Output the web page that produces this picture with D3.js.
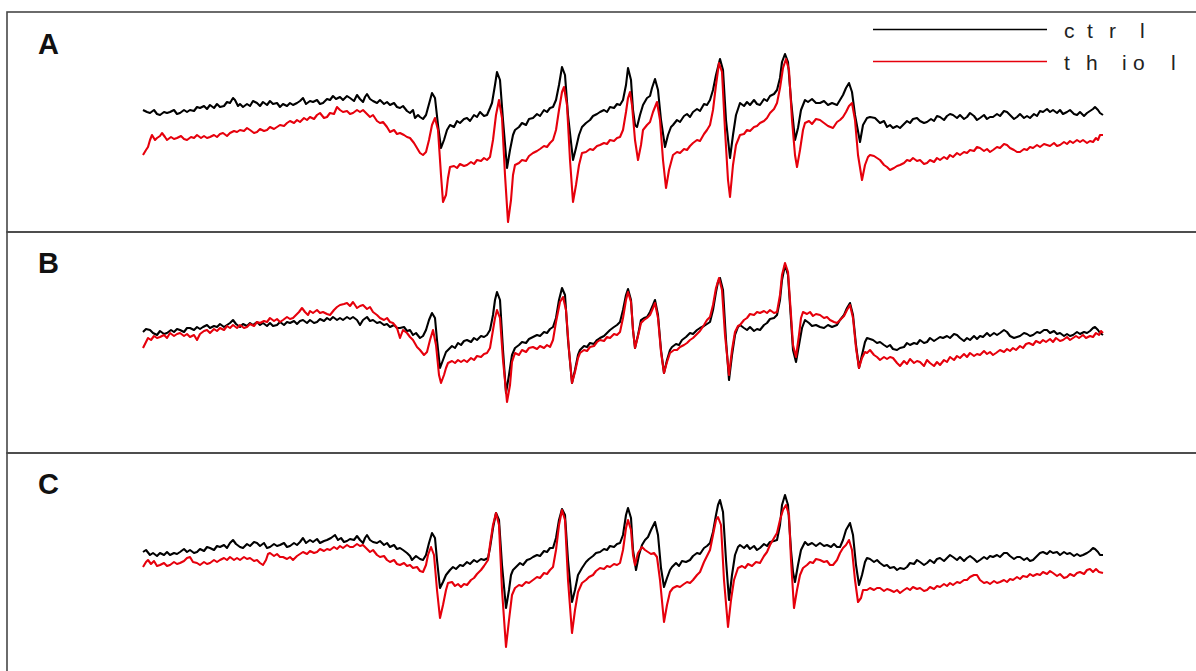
<!DOCTYPE html>
<html>
<head>
<meta charset="utf-8">
<script src="https://cdnjs.cloudflare.com/ajax/libs/d3/7.8.5/d3.min.js"></script>
<style>
body { margin: 0; background: #fff; }
svg { display: block; }
</style>
</head>
<body>
<svg width="1196" height="671"></svg>
<script>
// spectra: [field, signal] pairs, field 0..960 (arbitrary units)
// signal is in arbitrary units, same scale in every panel

var ctrlA = [[0,22],[4,20],[7,19],[11,22],[14,18],[17,17],[21,20],[24,19],[27,20],[31,22],[34,18],[37,19],[41,22],[44,20],[47,22],[51,21],[54,25],[57,24],[61,26],[64,23],[67,27],[71,24],[74,28],[77,25],[81,26],[84,30],[87,29],[90,34],[92,32],[95,26],[97,28],[100,25],[104,28],[107,26],[110,31],[114,29],[117,26],[120,30],[124,27],[127,31],[130,28],[134,29],[137,25],[140,28],[144,26],[147,29],[150,27],[154,29],[157,31],[160,34],[163,28],[167,31],[170,30],[174,32],[177,28],[180,29],[184,33],[187,32],[190,36],[193,33],[197,35],[200,32],[204,36],[207,34],[211,31],[214,37],[217,33],[220,30],[222,35],[224,38],[227,33],[230,31],[234,29],[237,32],[241,28],[244,30],[247,27],[251,29],[254,25],[257,24],[260,26],[264,21],[267,19],[270,22],[272,14],[275,17],[277,15],[280,13],[283,17],[286,28],[289,39],[292,34],[295,7],[298,-16],[301,-8],[304,2],[307,7],[311,5],[314,11],[317,9],[321,13],[324,14],[327,11],[331,17],[334,15],[337,20],[341,16],[344,17],[347,24],[349,29],[352,47],[354,60],[357,52],[360,12],[364,-36],[367,-18],[370,-3],[372,2],[376,5],[379,9],[383,7],[386,13],[390,14],[394,18],[397,16],[401,22],[404,20],[407,24],[410,25],[413,32],[416,47],[419,65],[422,57],[425,17],[430,-28],[433,-16],[436,-3],[439,5],[443,9],[447,12],[450,16],[454,18],[457,20],[461,22],[464,20],[467,25],[471,24],[474,28],[477,27],[480,32],[483,47],[485,64],[488,52],[490,22],[492,7],[494,5],[497,17],[500,27],[504,34],[507,36],[509,44],[512,53],[515,42],[518,12],[522,-15],[525,-3],[528,5],[530,7],[534,12],[537,10],[541,16],[544,18],[547,15],[550,20],[554,23],[557,21],[561,28],[564,27],[567,32],[570,42],[573,57],[577,73],[580,62],[583,12],[587,-26],[590,-3],[593,17],[597,29],[601,26],[604,30],[607,27],[611,32],[614,28],[617,27],[621,33],[624,31],[627,36],[631,38],[634,42],[637,54],[639,70],[642,78],[645,70],[648,32],[652,-8],[655,4],[658,22],[662,32],[665,30],[669,33],[673,29],[677,29],[681,31],[685,27],[689,29],[694,27],[697,32],[700,37],[703,44],[706,49],[709,40],[712,17],[717,-10],[720,7],[724,14],[727,15],[732,14],[737,9],[741,11],[744,5],[747,7],[750,4],[754,6],[757,4],[760,7],[764,11],[767,9],[770,13],[774,14],[777,11],[781,9],[784,10],[788,13],[791,11],[794,16],[797,15],[801,12],[804,16],[807,18],[810,17],[814,14],[817,17],[821,13],[824,15],[827,19],[831,16],[834,12],[837,14],[841,17],[844,13],[847,15],[850,15],[854,18],[857,16],[861,21],[864,20],[867,17],[871,13],[874,15],[877,18],[881,14],[884,16],[887,14],[891,18],[894,16],[897,21],[900,20],[904,23],[907,20],[910,22],[914,19],[917,22],[920,18],[924,20],[927,22],[931,18],[934,17],[937,20],[941,16],[944,19],[947,21],[950,23],[952,25],[955,22],[957,19],[960,17]];

var thiolA = [[0,-23],[3,-18],[5,-15],[7,-8],[9,-3],[12,-8],[14,-6],[17,-4],[19,-1],[22,-5],[24,-8],[28,-5],[31,-7],[34,-6],[38,-4],[41,-7],[44,-8],[48,-5],[51,-6],[54,-3],[58,-6],[61,-4],[64,-6],[67,-5],[71,-3],[74,-5],[77,-2],[80,-1],[84,-4],[87,-1],[91,1],[94,0],[97,2],[101,1],[104,4],[107,2],[111,-1],[114,0],[117,3],[121,1],[124,2],[127,5],[131,3],[134,5],[137,7],[141,6],[144,9],[147,11],[151,9],[154,12],[157,10],[161,14],[164,12],[167,15],[171,13],[174,17],[177,19],[181,14],[184,15],[187,19],[191,18],[194,25],[197,22],[200,20],[204,21],[207,18],[210,19],[214,22],[217,20],[220,22],[223,19],[227,15],[230,17],[234,11],[237,9],[240,10],[244,5],[247,0],[251,2],[254,-2],[257,-1],[261,-3],[264,-5],[267,-6],[271,-11],[274,-16],[277,-21],[280,-23],[283,-20],[286,-8],[289,7],[292,14],[295,2],[298,-43],[300,-70],[303,-63],[305,-46],[307,-35],[311,-34],[314,-36],[317,-32],[321,-34],[324,-33],[328,-30],[331,-32],[334,-28],[338,-29],[341,-26],[344,-28],[347,-25],[350,-8],[353,17],[356,32],[359,14],[362,-43],[365,-90],[368,-68],[370,-43],[372,-33],[376,-31],[379,-28],[383,-29],[386,-24],[390,-21],[394,-19],[397,-17],[401,-14],[404,-15],[407,-11],[410,-8],[413,2],[416,22],[419,40],[421,45],[424,27],[427,-28],[430,-70],[433,-53],[436,-33],[439,-21],[443,-20],[447,-17],[450,-18],[454,-14],[457,-13],[461,-11],[464,-12],[467,-8],[471,-9],[474,-6],[477,-5],[480,2],[483,20],[485,34],[487,40],[489,27],[492,-8],[495,-28],[498,-13],[500,2],[504,7],[507,10],[510,20],[514,30],[517,12],[520,-28],[523,-56],[526,-38],[530,-23],[534,-20],[537,-21],[541,-17],[544,-18],[547,-14],[550,-11],[554,-8],[557,-9],[561,-2],[564,2],[567,7],[570,22],[573,47],[576,69],[579,60],[582,2],[585,-48],[587,-65],[590,-33],[593,-13],[597,-3],[601,-2],[604,2],[607,1],[611,5],[614,6],[617,9],[621,11],[624,14],[627,19],[631,23],[634,29],[637,44],[640,64],[643,73],[646,62],[649,12],[652,-23],[654,-35],[657,-18],[660,2],[662,9],[666,11],[669,8],[673,13],[677,12],[681,9],[685,6],[690,4],[694,10],[697,12],[700,15],[703,20],[706,26],[709,29],[712,12],[715,-23],[719,-48],[722,-33],[725,-25],[727,-23],[731,-24],[734,-26],[737,-28],[741,-33],[744,-35],[747,-38],[751,-36],[754,-34],[757,-33],[761,-31],[764,-28],[767,-29],[770,-26],[774,-29],[777,-28],[781,-32],[784,-31],[787,-28],[791,-30],[794,-26],[797,-28],[801,-25],[804,-27],[807,-23],[810,-25],[814,-21],[817,-23],[821,-20],[824,-21],[827,-18],[831,-19],[834,-15],[837,-16],[841,-19],[844,-17],[847,-20],[850,-18],[854,-15],[857,-16],[861,-12],[864,-13],[867,-16],[871,-18],[874,-20],[877,-20],[881,-17],[884,-18],[887,-15],[890,-16],[894,-13],[897,-15],[901,-12],[904,-13],[907,-14],[911,-11],[914,-14],[917,-13],[921,-10],[924,-12],[927,-9],[930,-11],[934,-8],[937,-10],[940,-8],[944,-11],[947,-9],[950,-10],[953,-6],[955,-8],[957,-3],[960,-3]];

var ctrlB = [[0,20],[3,23],[7,22],[10,19],[14,17],[17,21],[21,18],[24,19],[28,22],[31,20],[34,23],[37,22],[41,20],[44,24],[47,24],[51,22],[54,25],[57,23],[60,25],[64,27],[67,24],[71,26],[74,25],[77,28],[81,25],[84,27],[87,29],[90,32],[93,28],[97,25],[100,28],[104,26],[107,29],[110,27],[114,30],[117,27],[120,29],[124,26],[127,29],[130,26],[134,27],[137,30],[141,27],[144,30],[147,29],[151,31],[154,28],[157,31],[160,32],[164,29],[167,32],[171,29],[174,30],[177,33],[181,31],[184,34],[187,32],[190,35],[194,32],[197,34],[200,32],[204,35],[207,33],[210,35],[214,32],[217,27],[220,32],[224,35],[227,31],[230,32],[234,29],[237,30],[241,27],[244,28],[247,25],[251,27],[254,24],[257,24],[261,25],[264,21],[267,22],[270,17],[273,19],[277,14],[280,16],[283,22],[286,32],[289,39],[292,34],[294,12],[297,-16],[300,-8],[303,0],[305,2],[309,6],[312,4],[315,9],[318,7],[321,11],[324,12],[328,10],[331,14],[334,12],[338,16],[341,15],[344,17],[347,22],[350,37],[352,52],[354,60],[357,52],[360,2],[363,-41],[366,-23],[369,-3],[372,4],[376,7],[379,10],[383,9],[386,13],[390,15],[394,17],[397,16],[401,20],[404,19],[407,23],[410,25],[413,34],[416,52],[419,64],[422,57],[425,12],[429,-31],[432,-18],[435,-3],[437,2],[441,6],[444,5],[447,9],[451,8],[454,12],[457,14],[461,16],[464,19],[467,22],[471,25],[474,27],[477,30],[480,42],[483,57],[485,63],[488,52],[490,22],[492,4],[495,17],[498,32],[501,34],[504,35],[507,40],[510,47],[512,52],[515,37],[518,2],[521,-21],[524,-8],[527,2],[529,5],[533,8],[536,7],[539,12],[543,15],[547,19],[550,18],[554,22],[557,24],[561,26],[564,28],[567,30],[570,42],[573,60],[575,70],[577,74],[580,62],[583,12],[586,-28],[589,-3],[592,17],[595,25],[597,27],[601,24],[604,22],[607,25],[611,21],[614,23],[617,22],[621,27],[624,29],[627,33],[631,34],[634,37],[637,52],[639,72],[642,87],[645,77],[648,32],[650,2],[653,-10],[656,7],[659,24],[662,32],[666,29],[669,26],[673,27],[677,25],[681,24],[685,27],[689,25],[694,27],[697,32],[701,37],[704,44],[707,49],[710,37],[713,7],[716,-16],[719,-3],[722,10],[724,14],[727,13],[730,12],[734,9],[737,10],[741,7],[744,5],[747,7],[750,3],[754,2],[757,4],[761,5],[764,9],[767,7],[771,9],[774,8],[777,12],[781,9],[784,10],[787,14],[791,11],[794,13],[797,15],[800,14],[804,16],[807,14],[811,18],[814,17],[817,14],[821,11],[824,14],[827,12],[831,16],[834,13],[837,16],[840,15],[844,19],[847,16],[851,19],[854,17],[857,19],[861,22],[864,20],[867,16],[871,14],[874,15],[877,16],[881,19],[884,18],[887,16],[890,17],[894,20],[897,19],[901,22],[904,22],[907,19],[911,21],[914,18],[917,19],[921,16],[924,18],[927,16],[930,17],[934,20],[937,18],[941,20],[944,19],[947,21],[950,24],[952,25],[955,22],[957,19],[960,17]];

var thiolB = [[0,4],[3,10],[5,14],[8,12],[11,16],[14,14],[17,15],[21,17],[24,14],[27,19],[31,16],[34,18],[37,19],[41,16],[44,18],[47,15],[51,17],[54,12],[57,18],[61,21],[64,22],[67,19],[71,23],[74,21],[77,24],[81,22],[84,26],[87,24],[90,27],[94,24],[97,27],[101,24],[104,25],[107,28],[111,26],[114,30],[117,29],[121,31],[124,30],[127,34],[131,31],[134,33],[137,30],[140,32],[144,35],[147,33],[150,34],[153,37],[156,40],[159,44],[162,40],[165,37],[167,41],[170,39],[174,42],[177,39],[180,40],[184,38],[187,37],[191,42],[194,45],[197,47],[201,48],[204,49],[207,46],[210,50],[214,44],[217,46],[220,47],[224,43],[227,45],[230,40],[234,37],[237,34],[241,32],[244,34],[247,30],[250,29],[254,24],[257,14],[260,22],[264,19],[267,15],[270,12],[274,5],[277,2],[281,-3],[284,0],[287,12],[290,22],[293,7],[296,-23],[298,-31],[301,-23],[303,-16],[305,-11],[309,-9],[312,-11],[315,-8],[318,-10],[321,-8],[324,-10],[328,-6],[331,-8],[334,-4],[338,-5],[341,-2],[344,-1],[347,4],[350,22],[352,34],[354,42],[357,34],[360,-8],[364,-50],[367,-33],[369,-10],[372,-1],[376,-3],[379,2],[383,0],[386,4],[390,5],[394,3],[397,6],[401,4],[404,7],[407,5],[410,12],[413,30],[415,40],[417,50],[420,55],[423,42],[426,2],[429,-31],[432,-20],[435,-6],[437,-1],[441,2],[444,1],[447,5],[451,6],[454,10],[457,12],[461,11],[464,15],[467,14],[471,18],[474,17],[477,20],[480,34],[483,52],[485,60],[488,50],[490,22],[492,4],[495,16],[498,29],[501,32],[504,34],[507,37],[510,44],[512,49],[515,34],[518,0],[521,-21],[524,-10],[527,-1],[531,2],[534,2],[537,5],[541,7],[544,9],[547,12],[550,14],[554,18],[557,21],[561,27],[564,32],[567,35],[570,47],[573,64],[576,74],[579,62],[582,17],[586,-23],[589,2],[592,20],[595,26],[597,27],[601,32],[604,34],[607,38],[611,37],[614,40],[617,39],[621,41],[624,39],[627,42],[631,39],[634,40],[637,57],[639,77],[642,89],[645,80],[648,37],[650,7],[653,-5],[656,17],[658,34],[660,40],[664,38],[667,40],[670,36],[673,38],[677,37],[681,34],[684,35],[687,32],[691,30],[694,29],[697,32],[701,36],[704,42],[707,47],[710,34],[713,4],[716,-16],[719,-6],[722,0],[724,-1],[727,2],[731,-3],[734,-5],[737,-8],[741,-5],[744,-7],[747,-5],[750,-6],[754,-11],[757,-14],[761,-9],[764,-12],[767,-7],[771,-11],[774,-9],[777,-10],[781,-14],[784,-8],[787,-11],[791,-14],[794,-10],[797,-13],[801,-8],[804,-10],[807,-5],[811,-8],[814,-4],[817,-6],[821,-2],[824,-5],[827,-1],[831,-4],[834,-2],[837,-3],[841,1],[844,-2],[847,0],[850,-3],[853,-1],[857,2],[861,0],[864,3],[867,1],[870,4],[873,2],[877,6],[880,4],[883,8],[886,9],[890,7],[893,11],[897,9],[900,12],[903,10],[907,13],[910,10],[913,14],[917,11],[920,12],[924,15],[927,12],[930,14],[933,16],[936,14],[940,17],[943,14],[947,16],[950,15],[953,19],[956,17],[958,21],[960,19]];

var ctrlC = [[0,21],[3,23],[7,18],[10,20],[14,17],[17,20],[21,18],[24,21],[27,18],[31,20],[34,19],[37,21],[41,24],[44,21],[47,23],[51,20],[54,21],[57,24],[61,22],[64,26],[67,25],[71,23],[74,27],[77,26],[81,28],[84,25],[87,30],[90,33],[93,29],[97,26],[100,25],[104,29],[107,27],[111,31],[114,30],[117,27],[121,30],[124,25],[127,26],[131,29],[134,27],[137,28],[141,30],[144,26],[147,27],[151,30],[154,28],[157,31],[160,35],[163,30],[167,33],[170,31],[174,34],[177,30],[181,32],[184,33],[188,35],[192,38],[195,33],[198,35],[201,31],[204,32],[207,34],[211,33],[214,37],[217,33],[220,30],[222,35],[224,38],[227,33],[230,31],[234,30],[237,32],[241,28],[244,30],[247,26],[251,28],[254,24],[257,25],[260,23],[264,20],[267,17],[269,13],[273,17],[277,14],[280,13],[283,18],[286,30],[289,40],[292,35],[294,13],[297,-15],[300,-9],[303,-2],[307,3],[310,6],[313,4],[317,8],[320,7],[324,11],[327,9],[331,13],[334,11],[338,14],[341,13],[345,15],[347,25],[350,45],[353,60],[356,53],[359,8],[363,-35],[366,-17],[368,-2],[370,3],[374,7],[377,10],[380,8],[384,13],[387,14],[390,16],[394,18],[397,17],[401,22],[404,21],[407,25],[410,25],[413,35],[416,53],[419,64],[422,58],[425,13],[429,-29],[432,-17],[435,-2],[439,5],[443,11],[446,14],[450,17],[453,20],[457,21],[461,24],[464,23],[467,27],[471,26],[474,29],[477,30],[480,38],[483,58],[485,65],[488,55],[490,23],[493,3],[496,18],[499,28],[502,33],[505,36],[508,43],[512,51],[515,38],[518,5],[521,-14],[524,-5],[527,3],[529,6],[533,10],[536,7],[539,12],[543,11],[547,13],[550,17],[554,20],[557,19],[561,25],[564,27],[567,30],[570,41],[573,58],[575,68],[577,73],[580,61],[583,13],[586,-27],[589,-2],[592,18],[595,26],[597,28],[601,25],[604,28],[607,24],[611,27],[614,23],[617,25],[621,29],[624,27],[627,31],[631,32],[634,33],[637,48],[639,68],[642,78],[645,68],[648,23],[650,1],[652,-9],[655,8],[658,23],[662,31],[665,28],[669,30],[673,27],[677,30],[681,27],[684,28],[688,26],[691,29],[694,26],[697,26],[700,33],[703,43],[707,50],[710,38],[713,8],[716,-12],[719,-2],[722,11],[724,15],[727,14],[731,11],[734,13],[737,10],[741,7],[744,8],[747,5],[751,6],[754,3],[757,5],[761,4],[764,6],[767,10],[771,9],[774,13],[777,11],[781,8],[784,10],[787,13],[791,10],[794,14],[797,15],[801,12],[804,15],[807,18],[810,16],[814,13],[817,16],[821,12],[824,15],[827,17],[831,14],[834,11],[837,13],[841,16],[844,14],[847,17],[850,16],[854,18],[857,16],[861,20],[864,20],[867,17],[871,14],[874,16],[877,16],[881,13],[884,15],[887,12],[890,13],[894,17],[897,20],[900,21],[904,19],[907,22],[910,20],[914,21],[917,18],[921,21],[924,19],[927,20],[931,17],[934,19],[937,17],[940,18],[944,20],[947,22],[950,25],[952,24],[955,21],[957,18],[960,18]];

var thiolC = [[0,6],[3,11],[5,13],[8,9],[11,12],[14,7],[17,8],[21,10],[24,7],[27,8],[31,11],[34,9],[37,10],[41,12],[44,15],[47,16],[50,11],[54,10],[57,8],[61,11],[64,9],[67,10],[71,13],[74,11],[77,13],[81,15],[84,13],[87,16],[91,13],[94,15],[97,13],[101,16],[104,14],[107,15],[111,12],[114,13],[117,10],[120,8],[123,13],[125,19],[127,20],[131,17],[134,19],[137,16],[140,16],[144,14],[147,16],[150,13],[154,17],[157,19],[160,21],[164,19],[167,22],[171,20],[174,21],[177,24],[181,22],[184,24],[187,23],[191,26],[194,24],[197,27],[200,25],[204,28],[207,26],[210,26],[214,29],[217,27],[220,28],[223,25],[227,21],[230,23],[234,18],[237,16],[241,17],[244,13],[247,11],[251,13],[254,9],[257,8],[261,10],[264,7],[267,8],[270,5],[274,6],[277,2],[280,1],[283,8],[285,18],[288,26],[291,18],[294,-17],[297,-45],[300,-32],[303,-17],[305,-10],[309,-9],[312,-13],[315,-11],[318,-14],[321,-11],[324,-12],[328,-7],[331,-5],[334,-1],[338,3],[341,7],[345,13],[347,28],[350,48],[353,60],[356,48],[359,-17],[363,-74],[366,-47],[369,-22],[372,-15],[376,-12],[379,-13],[383,-9],[386,-10],[390,-7],[394,-4],[397,-5],[401,0],[404,-1],[407,3],[410,6],[413,23],[416,48],[419,63],[422,53],[425,-7],[429,-60],[432,-37],[435,-19],[439,-10],[443,-7],[446,-4],[450,-2],[453,2],[457,5],[461,4],[464,7],[467,6],[471,9],[474,8],[477,10],[480,23],[483,45],[485,53],[488,43],[490,18],[492,8],[495,20],[499,26],[502,23],[505,21],[508,19],[511,20],[514,16],[517,-7],[521,-49],[524,-32],[527,-19],[530,-15],[534,-13],[537,-14],[541,-11],[544,-9],[547,-10],[550,-7],[554,-2],[557,1],[561,11],[564,17],[567,23],[570,38],[573,53],[575,56],[578,48],[581,-7],[585,-54],[588,-27],[591,-7],[595,5],[599,7],[602,5],[605,9],[609,7],[613,11],[617,10],[621,17],[624,21],[627,28],[631,35],[634,40],[637,53],[640,63],[643,68],[646,58],[648,13],[651,-35],[654,-17],[657,-2],[660,5],[664,8],[667,11],[670,10],[673,14],[677,13],[681,11],[684,12],[687,8],[690,8],[694,13],[697,20],[700,25],[703,28],[706,33],[709,23],[712,-7],[715,-29],[718,-25],[720,-17],[724,-17],[727,-15],[731,-17],[734,-15],[737,-15],[741,-18],[744,-16],[747,-17],[751,-19],[754,-17],[757,-20],[761,-17],[764,-15],[767,-17],[770,-14],[774,-16],[777,-15],[781,-18],[784,-17],[787,-14],[791,-16],[794,-13],[797,-14],[801,-11],[804,-13],[807,-10],[810,-12],[814,-9],[817,-10],[821,-7],[824,-7],[827,-4],[831,-2],[834,-2],[837,-7],[841,-10],[844,-9],[847,-11],[851,-8],[854,-10],[857,-9],[861,-7],[864,-9],[867,-6],[870,-7],[874,-4],[877,-6],[880,-3],[884,-4],[887,-1],[890,-3],[894,-1],[897,-2],[900,1],[904,-1],[907,2],[910,0],[914,-3],[917,-1],[921,-5],[924,-4],[927,-1],[931,-3],[934,0],[937,1],[941,-1],[944,3],[947,4],[950,1],[953,4],[956,1],[960,0]];

var panelNames = ["A", "B", "C"];
var legendNames = ["ctrl", "thiol"];
var seriesColors = ["#000000", "#e6000c"];

var panelData = [[ctrlA, thiolA], [ctrlB, thiolB], [ctrlC, thiolC]];

var svg = d3.select("svg"),
    width = +svg.attr("width"),
    height = +svg.attr("height");

var panelTop = [12, 232, 453];
var panelH = 220;

var x = d3.scaleLinear().domain([0, 960]).range([143, 1103]);
var y = d3.scaleLinear().domain([-100, 120]).range([panelH, 0]);

var line = d3.line()
    .x(function(d) { return x(d[0]); })
    .y(function(d) { return y(d[1]); });

// frames (right side and bottom run off the picture)
svg.append("g")
  .selectAll("rect")
  .data(panelTop)
  .enter().append("rect")
    .attr("x", 7)
    .attr("y", function(d) { return d; })
    .attr("width", width + 20)
    .attr("height", function(d, i) { return i < 2 ? panelTop[i + 1] - d : panelH + 30; })
    .attr("fill", "none")
    .attr("stroke", "#484848")
    .attr("stroke-width", 1.6);

var panel = svg.selectAll("g.panel")
  .data(panelData)
  .enter().append("g")
    .attr("class", "panel")
    .attr("transform", function(d, i) { return "translate(0," + panelTop[i] + ")"; });

panel.append("text")
    .attr("x", 38)
    .attr("y", function(d, i) { return i == 0 ? 42 : 41; })
    .attr("font-family", "'Liberation Sans', Arial, sans-serif")
    .attr("font-weight", "bold")
    .attr("font-size", 29)
    .attr("fill", "#111")
    .text(function(d, i) { return panelNames[i]; });

panel.selectAll("path.trace")
  .data(function(d) { return d; })
  .enter().append("path")
    .attr("class", "trace")
    .attr("d", line)
    .attr("fill", "none")
    .attr("stroke", function(d, i) { return seriesColors[i]; })
    .attr("stroke-width", 2.1)
    .attr("stroke-linejoin", "round");

// legend, top right of panel A
var legendY = [29.5, 61.5];
var glyphX = [[1064, 1087, 1109, 1140], [1064, 1086, 1122, 1133, 1171]];

var legend = svg.append("g").attr("class", "legend")
  .selectAll("g")
  .data(legendNames)
  .enter().append("g");

legend.append("line")
    .attr("x1", 873)
    .attr("x2", 1047)
    .attr("y1", function(d, i) { return legendY[i]; })
    .attr("y2", function(d, i) { return legendY[i]; })
    .attr("stroke", function(d, i) { return seriesColors[i]; })
    .attr("stroke-width", 1.3);

legend.append("text")
    .attr("x", function(d, i) { return glyphX[i].join(" "); })
    .attr("y", function(d, i) { return legendY[i] + 8.5; })
    .attr("font-family", "'Liberation Sans', Arial, sans-serif")
    .attr("font-size", 21)
    .attr("fill", "#222")
    .text(function(d) { return d; });
</script>
</body>
</html>
